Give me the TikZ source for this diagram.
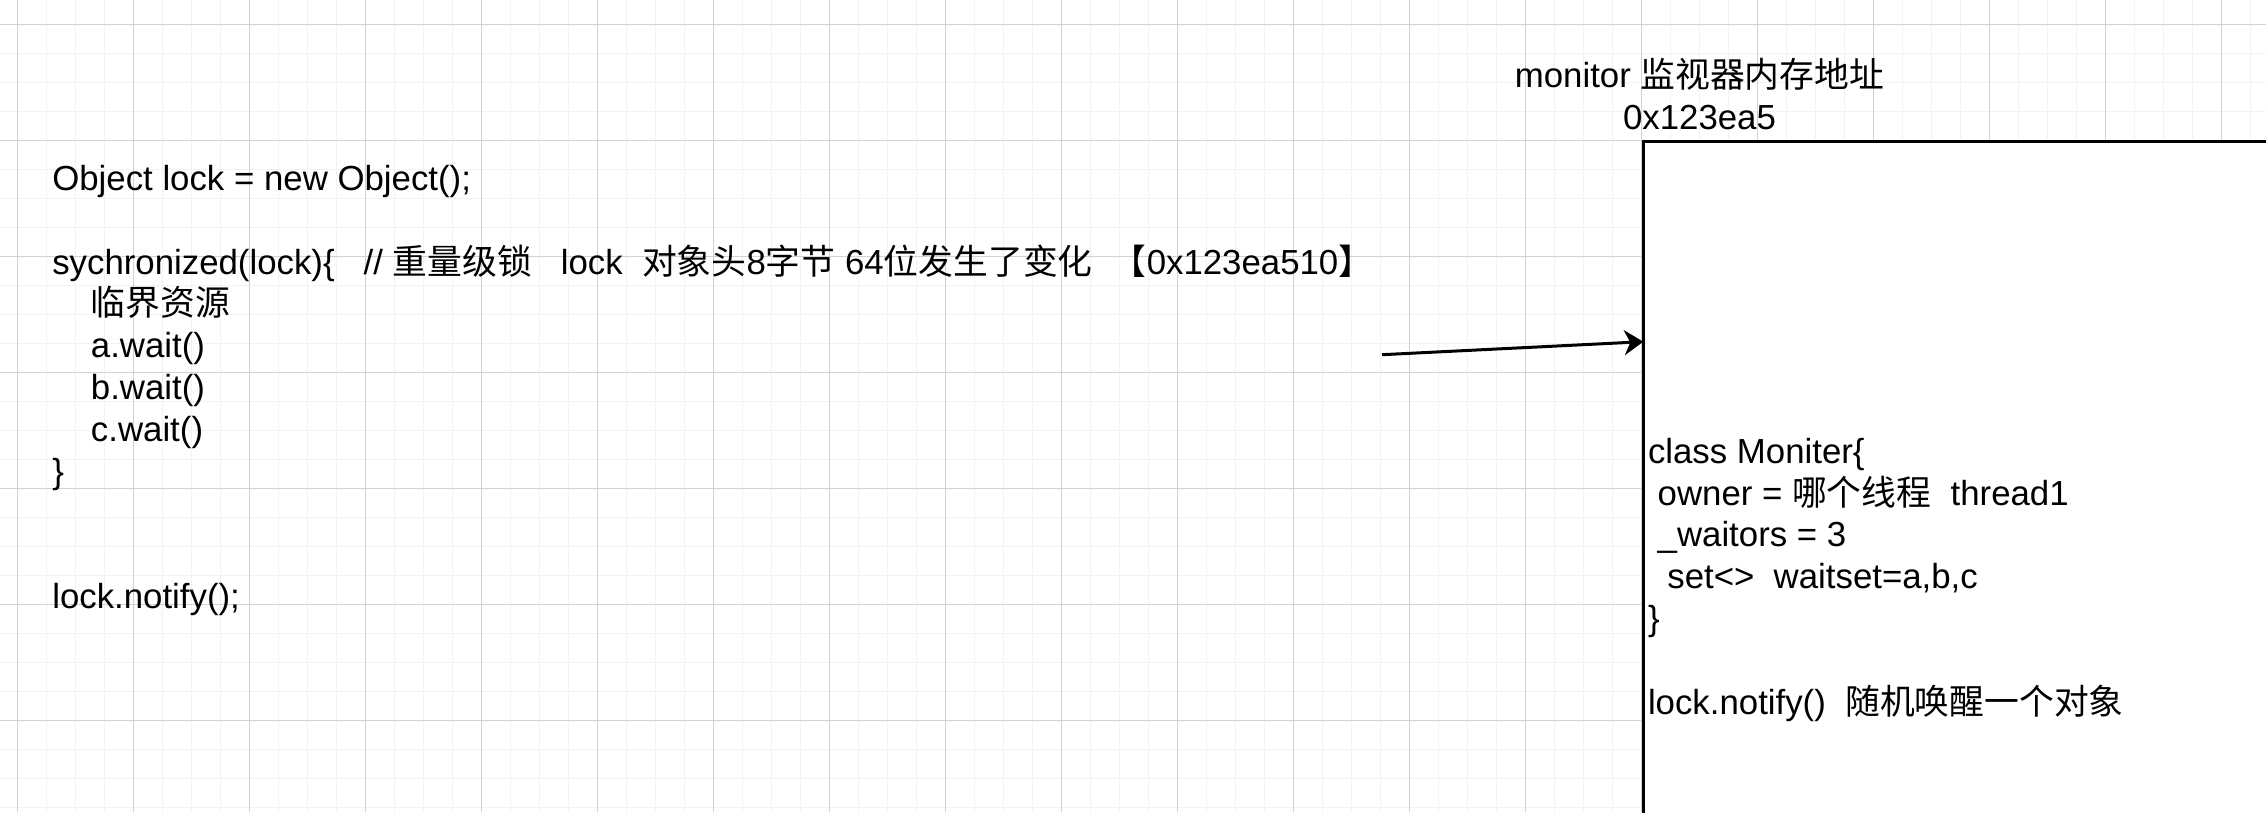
\documentclass[tikz,border=0pt]{standalone}
\usepackage{fontspec}
\setmainfont{Liberation Sans}
\newfontfamily\cjk{Noto Sans CJK SC}
\usetikzlibrary{arrows.meta}
\definecolor{gridminor}{HTML}{F2F2F2}
\definecolor{gridmajor}{HTML}{D2D2D2}
\newcommand\leftlines[1]{\vtop{\halign{##\hfil\cr#1\crcr}}}
\newcommand\centerlines[1]{\vtop{\halign{\hfil##\hfil\cr#1\crcr}}}
\begin{document}
\begin{tikzpicture}[x=1pt,y=-1pt,
  minorline/.style={draw=gridminor,line width=1.3pt},
  majorline/.style={draw=gridmajor,line width=1pt},
  txt/.style={inner sep=0pt,outer sep=0pt,font=\fontsize{34.8}{41.8}\selectfont},
  monbox/.style={draw=black,fill=white,line width=2.8pt,inner sep=0pt,outer sep=0pt,minimum width=900pt,minimum height=900pt},
  arr/.style={draw=black,line width=3pt,-{Stealth[length=19pt,width=25pt,inset=6pt]}}]
\useasboundingbox (0,0) rectangle (2266,812);
\begin{scope}
\clip (0,0) rectangle (2266,812);
\fill[white] (0,0) rectangle (2266,812);
\foreach \i in {0,...,79} \draw[minorline] ({-11.5+29*\i},0) -- ({-11.5+29*\i},812);
\foreach \j in {0,...,28} \draw[minorline] (0,{-4.7+29*\j}) -- (2266,{-4.7+29*\j});
\foreach \i in {0,...,19} \draw[majorline] ({17.5+116*\i},0) -- ({17.5+116*\i},812);
\foreach \j in {0,...,6} \draw[majorline] (0,{24.3+116*\j}) -- (2266,{24.3+116*\j});
\node[monbox,anchor=north west] (mon) at (1643.3,141.7) {};
\coordinate (src) at (1382,354.7);
\draw[arr] (src) -- ([yshift=-200pt]mon.north west);
\node[txt,anchor=base west] (code) at (52.3,190.5) {\leftlines{%
Object lock = new Object();\cr
\cr
sychronized(lock)\{~~~// {\cjk 重量级锁}~~~lock~~{\cjk 对象头}8{\cjk 字节}~64{\cjk 位发生了变化}~~{\cjk 【}0x123ea510{\cjk 】}\cr
~~~~{\cjk 临界资源}\cr
~~~~a.wait()\cr
~~~~b.wait()\cr
~~~~c.wait()\cr
\}\cr
\cr
\cr
lock.notify();}};
\node[txt,anchor=base] (addr) at (1699.5,87.3) {\centerlines{monitor {\cjk 监视器内存地址}\cr 0x123ea5}};
\node[txt,anchor=base west] (montext) at (1648,463.3) {\leftlines{%
class Moniter\{\cr
~owner = {\cjk 哪个线程}~~thread1\cr
~\_waitors = 3\cr
~~set<>~~waitset=a,b,c\cr
\}\cr
\cr
lock.notify()~~{\cjk 随机唤醒一个对象}}};
\end{scope}
\end{tikzpicture}
\end{document}
